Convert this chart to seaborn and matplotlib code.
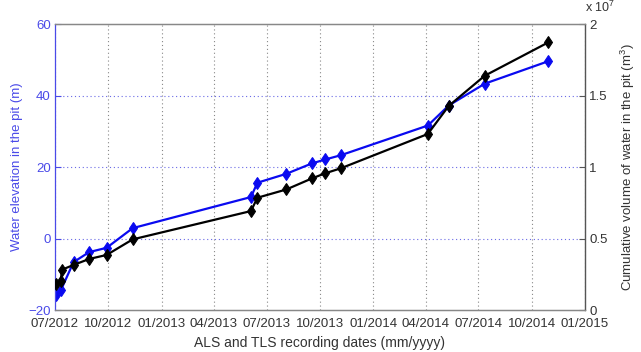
import matplotlib
matplotlib.use("Agg")
import matplotlib.pyplot as plt
import matplotlib.dates as mdates
from matplotlib.ticker import FixedLocator, FuncFormatter
import numpy as np
import pandas as pd
import seaborn as sns

# Water elevation in the pit (m)
elev_dates = ["2012-07-02", "2012-07-11", "2012-08-02", "2012-08-29", "2012-09-28",
              "2012-11-12", "2013-06-04", "2013-06-15", "2013-08-04", "2013-09-17",
              "2013-10-10", "2013-11-06", "2014-04-05", "2014-05-11", "2014-07-12",
              "2014-10-30"]
elevation = [-15.9, -14.5, -6.6, -3.8, -2.6, 2.9, 11.6, 15.6, 18.1, 21.0,
             22.1, 23.3, 31.6, 37.2, 43.3, 49.6]

# Cumulative volume of water in the pit (m^3)
vol_dates = ["2012-07-02", "2012-07-11", "2012-07-13", "2012-08-02", "2012-08-29",
             "2012-09-28", "2012-11-12", "2013-06-04", "2013-06-15", "2013-08-04",
             "2013-09-17", "2013-10-10", "2013-11-06", "2014-04-05", "2014-05-11",
             "2014-07-12", "2014-10-30"]
volume = [1.82e6, 2.05e6, 2.82e6, 3.15e6, 3.57e6, 3.85e6, 4.94e6, 6.92e6, 7.85e6,
          8.43e6, 9.20e6, 9.56e6, 9.91e6, 12.31e6, 14.27e6, 16.38e6, 18.72e6]

left_ticks = [-20, 0, 20, 40, 60]
right_ticks = [0, 0.5e7, 1.0e7, 1.5e7, 2.0e7]

sns.set_style("white")
plt.rcParams["font.family"] = ["Liberation Sans", "DejaVu Sans"]
plt.rcParams["mathtext.fontset"] = "custom"
plt.rcParams["mathtext.rm"] = "Liberation Sans"

BLUE = "#0a0af0"
LBLUE = "#4a4ae8"
GREY = "#555555"

elev_df = pd.DataFrame({"date": pd.to_datetime(elev_dates), "elevation": elevation})
vol_df = pd.DataFrame({"date": pd.to_datetime(vol_dates), "volume": volume})

fig = plt.figure(figsize=(6.41, 3.52), dpi=100)
ax = fig.add_axes([0.0858, 0.1193, 0.8268, 0.8125])
ax2 = ax.twinx()

sns.lineplot(data=elev_df, x="date", y="elevation", ax=ax, color=BLUE,
             marker="d", markersize=6, markeredgecolor=BLUE, linewidth=1.6)
sns.lineplot(data=vol_df, x="date", y="volume", ax=ax2, color="black",
             marker="d", markersize=6, markeredgecolor="black", linewidth=1.6)

xmin, xmax = pd.Timestamp("2012-07-01"), pd.Timestamp("2015-01-01")
ax.set_xlim(xmin, xmax)
ax.set_ylim(-20, 60)
ax2.set_ylim(0, 2e7)

ax.xaxis.set_major_locator(mdates.MonthLocator(bymonth=[1, 4, 7, 10]))
ax.xaxis.set_major_formatter(mdates.DateFormatter("%m/%Y"))
ax.yaxis.set_major_locator(FixedLocator(left_ticks))
ax2.yaxis.set_major_locator(FixedLocator(right_ticks))
ax2.yaxis.set_major_formatter(FuncFormatter(lambda v, p: f"{v / 1e7:g}"))

# dotted grid: grey for dates, blue for elevation
ax.grid(False)
ax2.grid(False)
for t in ax.get_xticks():
    ax.axvline(t, color="#888888", linestyle=(0, (1, 2.5)), linewidth=0.8, zorder=0)
for v in left_ticks[1:-1]:
    ax.axhline(v, color="#6a6ae6", linestyle=(0, (1, 2.5)), linewidth=0.8, zorder=0)

ax.tick_params(axis="x", direction="in", length=4, labelsize=9.5, colors=GREY,
               labelcolor="#333333", pad=6)
ax.tick_params(axis="y", direction="in", length=4, labelsize=9.5, colors=LBLUE,
               labelcolor=LBLUE, pad=3)
ax2.tick_params(axis="y", direction="in", length=4, labelsize=9.5, colors=GREY,
                labelcolor="#333333", pad=3)
ax.tick_params(top=False)

for a in (ax, ax2):
    for s in a.spines.values():
        s.set_color("#888888")
        s.set_linewidth(0.9)
ax.spines["left"].set_color(LBLUE)
ax2.spines["left"].set_visible(False)
ax2.spines["right"].set_color(GREY)

ax.set_xlabel("ALS and TLS recording dates (mm/yyyy)", fontsize=10,
              color="#333333", labelpad=4)
ax.set_ylabel("Water elevation in the pit (m)", fontsize=9.5, color=LBLUE, labelpad=4)
ax2.set_ylabel("Cumulative volume of water in the pit (m$^3$)", fontsize=9.5,
               color="#333333", labelpad=8)

ax2.text(1.0, 1.03, r"x 10$^7$", transform=ax2.transAxes, fontsize=9,
         color="#333333", ha="left", va="bottom")

fig.savefig("out.png", dpi=100)
